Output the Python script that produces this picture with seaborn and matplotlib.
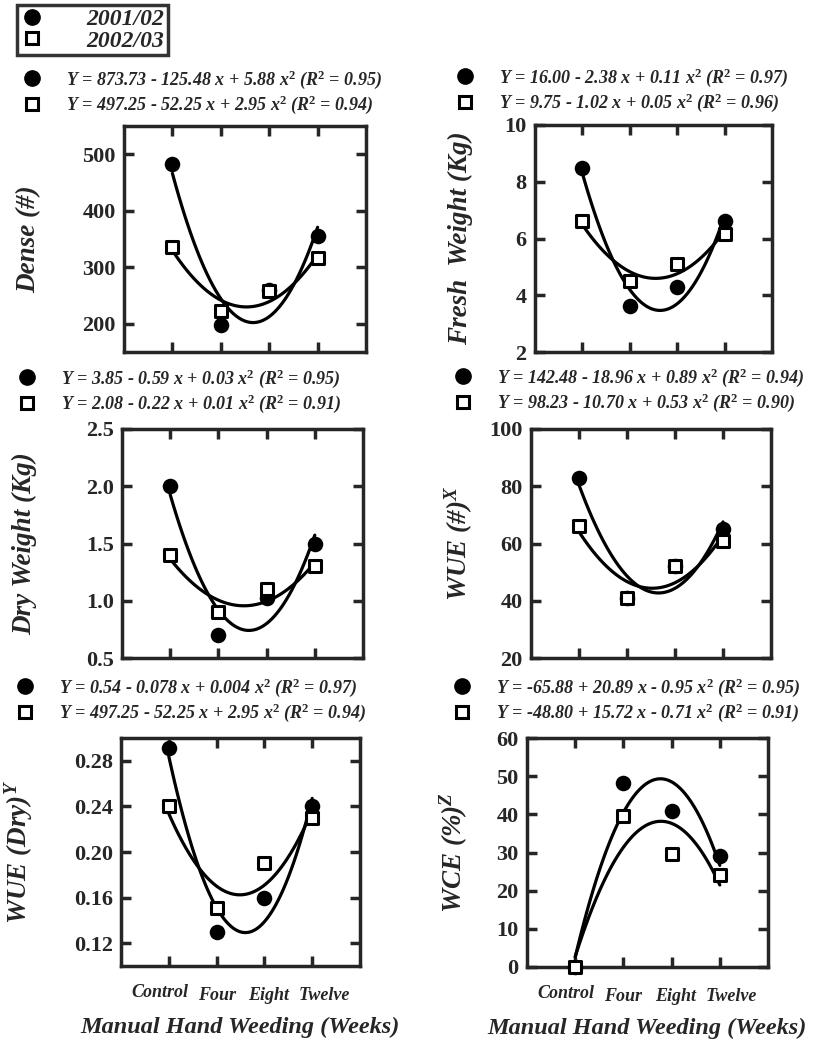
import numpy as np
import pandas as pd
import matplotlib
matplotlib.use("Agg")
import matplotlib.pyplot as plt
import matplotlib.transforms as mtransforms
import seaborn as sns
from matplotlib.lines import Line2D
from matplotlib.ticker import FormatStrFormatter

weeks = ["Control", "Four", "Eight", "Twelve"]
seasons = ["2001/02", "2002/03"]

# values (Control, Four, Eight, Twelve)
dense_0102 = [482, 197, 260, 355]
dense_0203 = [336, 223, 258, 316]
fresh_0102 = [8.49, 3.62, 4.28, 6.61]
fresh_0203 = [6.60, 4.49, 5.10, 6.16]
dry_0102 = [2.00, 0.70, 1.02, 1.50]
dry_0203 = [1.40, 0.90, 1.10, 1.30]
wue_n_0102 = [83, 41, 52, 65]
wue_n_0203 = [66, 41, 52, 61]
wue_dry_0102 = [0.291, 0.130, 0.160, 0.240]
wue_dry_0203 = [0.240, 0.151, 0.190, 0.230]
wce_0102 = [0, 48.2, 40.8, 29.2]
wce_0203 = [0, 39.5, 29.5, 24.2]

eq_dense = ["Y = 873.73 - 125.48 x + 5.88 x$^2$ (R$^2$ = 0.95)",
            "Y = 497.25 - 52.25 x + 2.95 x$^2$ (R$^2$ = 0.94)"]
eq_fresh = ["Y = 16.00 - 2.38 x + 0.11 x$^2$ (R$^2$ = 0.97)",
            "Y = 9.75 - 1.02 x + 0.05 x$^2$ (R$^2$ = 0.96)"]
eq_dry = ["Y = 3.85 - 0.59 x + 0.03 x$^2$ (R$^2$ = 0.95)",
          "Y = 2.08 - 0.22 x + 0.01 x$^2$ (R$^2$ = 0.91)"]
eq_wue_n = ["Y = 142.48 - 18.96 x + 0.89 x$^2$ (R$^2$ = 0.94)",
            "Y = 98.23 - 10.70 x + 0.53 x$^2$ (R$^2$ = 0.90)"]
eq_wue_dry = ["Y = 0.54 - 0.078 x + 0.004 x$^2$ (R$^2$ = 0.97)",
              "Y = 497.25 - 52.25 x + 2.95 x$^2$ (R$^2$ = 0.94)"]
eq_wce = ["Y = -65.88 + 20.89 x - 0.95 x$^2$ (R$^2$ = 0.95)",
          "Y = -48.80 + 15.72 x - 0.71 x$^2$ (R$^2$ = 0.91)"]

sns.set_style("ticks")
plt.rcParams['font.family'] = ['Liberation Serif', 'DejaVu Serif']
plt.rcParams['font.weight'] = 'bold'
plt.rcParams['mathtext.fontset'] = 'custom'
plt.rcParams['mathtext.rm'] = 'Liberation Serif:bold'
plt.rcParams['mathtext.it'] = 'Liberation Serif:italic:bold'
plt.rcParams['mathtext.bf'] = 'Liberation Serif:bold'
plt.rcParams['axes.linewidth'] = 2.5

W, H = 818, 1041
fig = plt.figure(figsize=(W / 100, H / 100), dpi=100)

# panel layout in pixels: left, top, right, bottom
panels = [
    dict(box=(124, 126, 366, 352), y=(dense_0102, dense_0203), ylim=(150, 550),
         yticks=[200, 300, 400, 500], fmt="%d", ylabel="Dense (#)", lab_x=-0.34,
         eq=eq_dense, eq_pos=(23, 116)),
    dict(box=(535, 125, 772, 352), y=(fresh_0102, fresh_0203), ylim=(2, 10),
         yticks=[2, 4, 6, 8, 10], fmt="%d", ylabel="Fresh  Weight (Kg)", lab_x=-0.26,
         eq=eq_fresh, eq_pos=(456, 114)),
    dict(box=(122, 429, 363, 658), y=(dry_0102, dry_0203), ylim=(0.5, 2.5),
         yticks=[0.5, 1.0, 1.5, 2.0, 2.5], fmt="%.1f", ylabel="Dry Weight (Kg)", lab_x=-0.35,
         eq=eq_dry, eq_pos=(18, 415)),
    dict(box=(531, 429, 771, 658), y=(wue_n_0102, wue_n_0203), ylim=(20, 100),
         yticks=[20, 40, 60, 80, 100], fmt="%d", ylabel="WUE (#)$^{X}$", lab_x=-0.235,
         eq=eq_wue_n, eq_pos=(454, 414)),
    dict(box=(121, 738, 360, 966), y=(wue_dry_0102, wue_dry_0203), ylim=(0.10, 0.30),
         yticks=[0.12, 0.16, 0.20, 0.24, 0.28], fmt="%.2f", ylabel="WUE (Dry)$^{Y}$", lab_x=-0.36,
         eq=eq_wue_dry, eq_pos=(16, 724)),
    dict(box=(527, 738, 768, 967), y=(wce_0102, wce_0203), ylim=(0, 60),
         yticks=[0, 10, 20, 30, 40, 50, 60], fmt="%d", ylabel="WCE (%)$^{Z}$", lab_x=-0.237,
         eq=eq_wce, eq_pos=(453, 724)),
]

pos = np.arange(len(weeks))
# small nudges of the week labels, as in the printed figure (px)
label_shift = [(-9, 3), (0, 0), (4, 0), (12, 0)]

circle_key = Line2D([], [], ls="none", marker="o", ms=11, mfc="black", mec="black")
square_key = Line2D([], [], ls="none", marker="s", ms=8.5, mfc="white", mec="black", mew=2.2)

for i, p in enumerate(panels):
    l, t, r, b = p["box"]
    ax = fig.add_axes([l / W, 1 - b / H, (r - l) / W, (b - t) / H])

    df = pd.DataFrame({"week": np.tile(pos, 2),
                       "value": np.concatenate(p["y"]),
                       "season": np.repeat(seasons, len(weeks))})
    d1 = df[df.season == seasons[0]]
    d2 = df[df.season == seasons[1]]

    sns.regplot(data=d1, x="week", y="value", order=2, ci=None, ax=ax,
                marker="o", color="black",
                scatter_kws=dict(s=125, alpha=1, zorder=3, linewidths=0, clip_on=False),
                line_kws=dict(lw=2.3, zorder=2))
    sns.regplot(data=d2, x="week", y="value", order=2, ci=None, ax=ax,
                marker="s", color="black",
                scatter_kws=dict(s=75, alpha=1, zorder=4, facecolors="white",
                                 edgecolors="black", linewidths=2.2, clip_on=False),
                line_kws=dict(lw=2.3, zorder=2))

    ax.set_xlim(-1, 4)
    ax.set_ylim(*p["ylim"])
    ax.set_yticks(p["yticks"])
    ax.yaxis.set_major_formatter(FormatStrFormatter(p["fmt"]))
    ax.set_xticks(pos)
    ax.tick_params(direction="in", length=7, width=2.5, top=True, right=True,
                   labelsize=16, pad=6)
    ax.set_ylabel(p["ylabel"], fontsize=19.5, fontstyle="italic", fontweight="bold")
    ax.yaxis.set_label_coords(p["lab_x"], 0.5)

    if i >= 4:
        ax.set_xticklabels(weeks, fontsize=13, fontstyle="italic")
        ax.tick_params(axis="x", pad=15)
        for lab, (dx, dy) in zip(ax.get_xticklabels(), label_shift):
            lab.set_transform(lab.get_transform() +
                              mtransforms.ScaledTranslation(dx / 100, dy / 100, fig.dpi_scale_trans))
        ax.set_xlabel("Manual Hand Weeding (Weeks)", fontsize=17.5,
                      fontstyle="italic", fontweight="bold", labelpad=9)
    else:
        ax.set_xticklabels([])
        ax.set_xlabel("")

    ex, ey = p["eq_pos"]
    ax.legend([circle_key, square_key], p["eq"], loc="lower left",
              bbox_to_anchor=(ex / W, 1 - ey / H), bbox_transform=fig.transFigure,
              frameon=False, borderpad=0, borderaxespad=0, handlelength=1.0,
              handletextpad=1.4, labelspacing=0.15,
              prop=dict(size=13, style="italic", weight="bold"))

leg = fig.legend([circle_key, square_key], seasons, loc="upper left",
                 bbox_to_anchor=(17 / W, 1 - 5 / H), frameon=True, fancybox=False,
                 edgecolor="black", borderpad=0.15, handlelength=1.0,
                 handletextpad=1.8, labelspacing=0.0, borderaxespad=0,
                 prop=dict(size=17, style="italic", weight="bold"))
leg.get_frame().set_linewidth(2.5)

fig.savefig("out.png", dpi=100, facecolor="white")
